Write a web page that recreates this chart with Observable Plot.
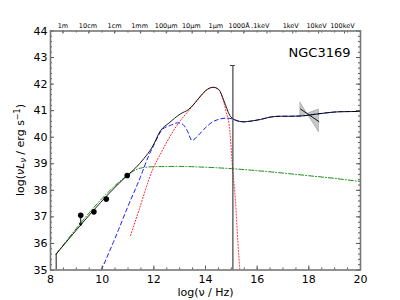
<!DOCTYPE html>
<html><head><meta charset="utf-8">
<script src="https://cdn.jsdelivr.net/npm/d3@7"></script>
<script src="https://cdn.jsdelivr.net/npm/@observablehq/plot@0.6"></script>
<style>body{margin:0;background:#fff} svg{display:block}</style>
</head><body><div id="chart"></div>
<script>
// Total SED model (black)
const totalX = [8.22, 10.97, 11.3, 11.61, 11.94, 12.26, 12.58, 13.03, 13.35, 13.6, 13.81, 14.07, 14.3, 14.52, 14.71, 14.94, 15.1, 15.3, 15.5, 15.7, 16.13, 16.52, 16.9, 17.3, 17.7, 18.2, 18.7, 19.2, 20];
const totalY = [35.6, 38.56, 38.85, 39.19, 39.63, 40.25, 40.53, 40.88, 41.05, 41.3, 41.55, 41.8, 41.88, 41.79, 41.38, 40.82, 40.67, 40.6, 40.58, 40.6, 40.67, 40.76, 40.79, 40.79, 40.8, 40.86, 40.92, 40.96, 40.97];
// Blue dashed component
const blueX = [9.97, 10.5, 11.0, 11.48, 11.8, 12.0, 12.2, 12.32, 12.65, 12.93, 13.1, 13.29, 13.48, 13.7, 13.94, 14.32, 14.84, 15.1, 15.3, 15.5, 15.7, 16.13, 16.52, 16.9, 17.3, 17.7, 18.2, 18.7, 19.2, 20];
const blueY = [35.0, 36.2, 37.4, 38.5, 39.3, 39.7, 40.1, 40.28, 40.45, 40.54, 40.5, 40.25, 39.88, 40.05, 40.3, 40.6, 40.72, 40.67, 40.6, 40.58, 40.6, 40.67, 40.76, 40.79, 40.79, 40.8, 40.86, 40.92, 40.96, 40.97];
// Red dotted component
const redX = [11.1, 11.42, 11.94, 12.3, 12.52, 12.97, 13.35, 13.6, 13.81, 14.07, 14.3, 14.52, 14.71, 14.8, 14.94, 15.0, 15.06, 15.16, 15.25, 15.33];
const redY = [36.3, 37.24, 38.75, 39.45, 39.85, 40.55, 41.0, 41.3, 41.55, 41.8, 41.88, 41.78, 41.3, 40.95, 40.25, 39.5, 38.7, 37.6, 36.1, 35.0];
// Green dash-dot component
const greenX = [8.22, 10.97, 11.2, 11.5, 12.0, 13.0, 14.0, 15.1, 16.0, 17.0, 18.0, 19.0, 20];
const greenY = [35.6, 38.56, 38.72, 38.84, 38.89, 38.9, 38.87, 38.81, 38.74, 38.65, 38.55, 38.45, 38.33];
// Photometry
const ptX = [9.68, 10.16, 10.97];
const ptY = [37.19, 37.67, 38.56];
const ulX = [9.17];
const ulY = [37.06];
const ulTo = [36.68];
// Error bar
const errX = [15.06];
const errLo = [35.0];
const errHi = [42.7];
// X-ray bowtie
const bowX = [17.68, 17.94, 18.39];
const bowLo = [40.79, 40.88, 40.19];
const bowHi = [41.29, 40.88, 41.04];
const bowLineX = [17.68, 18.39];
const bowLineY = [41.06, 40.59];
// Axis ticks and labels
const xMajor = [8, 10, 12, 14, 16, 18, 20];
const yMajor = [35, 36, 37, 38, 39, 40, 41, 42, 43, 44];
const topLabels = ["1m", "10cm", "1cm", "1mm", "100\u03bcm", "10\u03bcm", "1\u03bcm", "1000\u00c5", ".1keV", "1keV", "10keV", "100keV"];
const topPos = [8.48, 9.45, 10.48, 11.45, 12.48, 13.45, 14.4, 15.3, 16.12, 17.3, 18.3, 19.3];
const topTicks = [8.48, 9.48, 10.48, 11.48, 12.48, 13.48, 14.48, 15.48, 16.38, 17.38, 18.38, 19.38];
const title = "NGC3169";

const xMinor = d3.range(8, 20.001, 0.5);
const yMinor = d3.range(35, 44.001, 0.2);
const zip = (xs, ys) => xs.map((x, i) => ({x, y: ys[i]}));
const tickC = "#555";
const F = "DejaVu Sans, sans-serif";

const plot = Plot.plot({
  width: 400, height: 300,
  marginLeft: 50, marginRight: 40, marginTop: 30.5, marginBottom: 30.5,
  x: {domain: [8, 20]},
  y: {domain: [35, 44]},
  style: {fontFamily: F, fontSize: "11px", background: "white", color: "black"},
  marks: [
    Plot.areaY(bowX.map((x, i) => ({x, lo: bowLo[i], hi: bowHi[i]})), {x: "x", y1: "lo", y2: "hi", fill: "#999999", fillOpacity: 0.55, stroke: "#999", strokeWidth: 0.6}),
    Plot.line(zip(greenX, greenY), {x: "x", y: "y", stroke: "#008000", strokeWidth: 0.9, strokeDasharray: "5,2,1,2", curve: "monotone-x", clip: true}),
    Plot.line(zip(redX, redY), {x: "x", y: "y", stroke: "#ff0000", strokeWidth: 0.9, strokeDasharray: "1,2", curve: "monotone-x", clip: true}),
    Plot.line(zip(blueX, blueY), {x: "x", y: "y", stroke: "#0000ff", strokeWidth: 0.9, strokeDasharray: "4,3", curve: "monotone-x", clip: true}),
    Plot.ruleX([0], {x: () => totalX[0], y1: () => 35, y2: () => totalY[0], stroke: "black", strokeWidth: 0.9}),
    Plot.line(zip(totalX, totalY), {x: "x", y: "y", stroke: "black", strokeWidth: 0.9, curve: "monotone-x", clip: true}),
    Plot.line(zip(bowLineX, bowLineY), {x: "x", y: "y", stroke: "black", strokeWidth: 0.9}),
    Plot.ruleX(errX.map((x, i) => ({x, lo: errLo[i], hi: errHi[i]})), {x: "x", y1: "lo", y2: "hi", stroke: "#444", strokeWidth: 1.2}),
    Plot.ruleY(errX.map((x, i) => ({x, hi: errHi[i]})), {y: "hi", x1: "x", x2: "x", insetLeft: -2.5, insetRight: -2.5, stroke: "#444", strokeWidth: 1}),
    Plot.arrow(ulX.map((x, i) => ({x, y1: ulY[i], y2: ulTo[i]})), {x1: "x", x2: "x", y1: "y1", y2: "y2", stroke: "black", strokeWidth: 1, headLength: 4}),
    Plot.dot(zip(ulX, ulY), {x: "x", y: "y", r: 2.8, fill: "black"}),
    Plot.dot(zip(ptX, ptY), {x: "x", y: "y", r: 2.8, fill: "black"}),
    // inward ticks
    Plot.ruleX(xMinor, {x: d => d, y1: () => 35, y2: () => 35, insetTop: -2, stroke: tickC}),
    Plot.ruleX(xMajor, {x: d => d, y1: () => 35, y2: () => 35, insetTop: -4, stroke: tickC}),
    Plot.ruleX(xMinor, {x: d => d, y1: () => 44, y2: () => 44, insetBottom: -2, stroke: tickC}),
    Plot.ruleX(topTicks, {x: d => d, y1: () => 44, y2: () => 44, insetBottom: -3, stroke: tickC}),
    Plot.ruleY(yMinor, {y: d => d, x1: () => 8, x2: () => 8, insetRight: -2, stroke: tickC}),
    Plot.ruleY(yMajor, {y: d => d, x1: () => 8, x2: () => 8, insetRight: -4, stroke: tickC}),
    Plot.ruleY(yMinor, {y: d => d, x1: () => 20, x2: () => 20, insetLeft: -2, stroke: tickC}),
    Plot.ruleY(yMajor, {y: d => d, x1: () => 20, x2: () => 20, insetLeft: -4, stroke: tickC}),
    Plot.frame({stroke: "#777", strokeWidth: 1.6}),
    Plot.axisX(xMajor, {tickSize: 0, tickPadding: 5, label: null, fontSize: 11}),
    Plot.axisY(yMajor, {tickSize: 0, tickPadding: 3, label: null, fontSize: 11}),
    Plot.text(topLabels, {x: (d, i) => topPos[i], text: d => d, frameAnchor: "top", lineAnchor: "bottom", dy: -3, fontSize: 6.5}),
    Plot.text([title], {text: d => d, frameAnchor: "top-right", textAnchor: "end", dx: -10, dy: 17, fontSize: 13}),
    Plot.text(["log(\u03bd / Hz)"], {text: d => d, frameAnchor: "bottom", lineAnchor: "middle", dy: 22, fontSize: 11})
  ]
});

const svg = d3.select(plot);
const t = svg.append("text")
  .attr("transform", "translate(24,150) rotate(-90)")
  .attr("text-anchor", "middle")
  .attr("font-size", 11)
  .attr("font-family", F)
  .attr("fill", "black");
t.append("tspan").text("log(");
t.append("tspan").attr("font-style", "italic").text("\u03bdL");
t.append("tspan").attr("font-style", "italic").attr("font-size", 8).attr("dy", 2).text("\u03bd");
t.append("tspan").attr("dy", -2).text(" / erg s");
t.append("tspan").attr("font-size", 8).attr("dy", -4).text("\u22121");
t.append("tspan").attr("dy", 4).text(")");

document.getElementById("chart").appendChild(plot);
</script>
</body></html>
